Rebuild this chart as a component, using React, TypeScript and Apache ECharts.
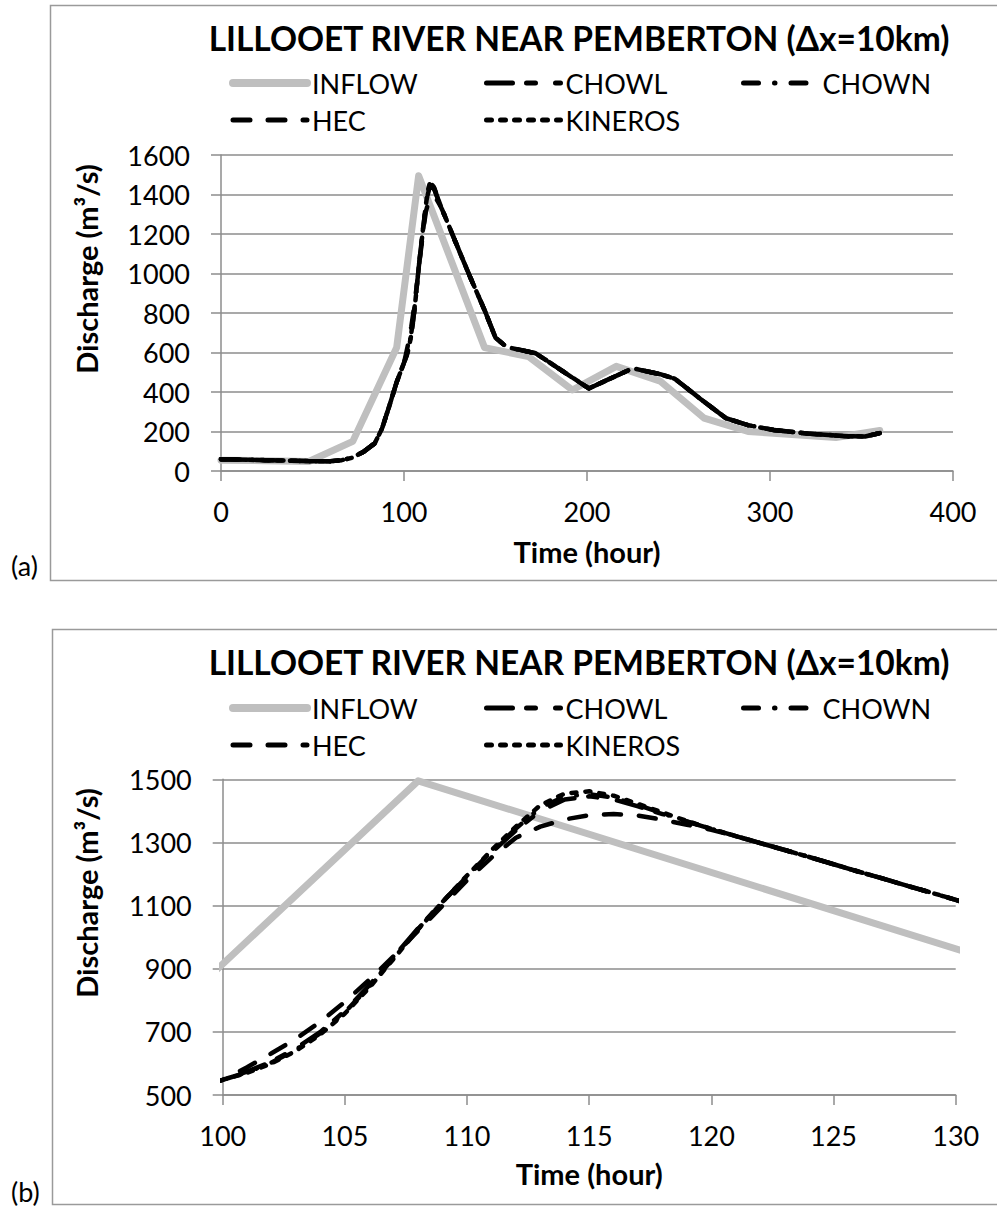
import React, { useEffect, useRef } from 'react';
import * as echarts from 'echarts';

const TITLE = 'LILLOOET RIVER NEAR PEMBERTON (Δx=10km)';
const X_NAME = 'Time (hour)';
const Y_NAME = 'Discharge (m³/s)';
const PANEL_LABELS = ['(a)', '(b)'];
const NAMES = ['INFLOW', 'CHOWL', 'CHOWN', 'HEC', 'KINEROS'];

// Inflow hydrograph (hour, m3/s)
const inflowTime = [0, 24, 48, 72, 96, 108, 144, 168, 192, 216, 240, 264, 288, 312, 336, 360];
const inflowQ = [55, 52, 48, 150, 625, 1495, 625, 580, 410, 530, 455, 268, 200, 185, 170, 205];

// Routed outflow: shared rising limb (all models coincide)
const earlyTime = [0, 24, 48, 60, 66, 72, 78, 84, 88, 92, 96];
const earlyQ = [60, 55, 50, 50, 55, 68, 98, 140, 215, 330, 450];

// Hourly detail around the peak
const peakTime = [100, 101, 102, 103, 104, 105, 106, 107, 108, 109, 110, 111, 112, 113, 114, 115,
  116, 117, 118, 119, 120, 121, 122, 123, 124, 125, 126, 127, 128, 129, 130];
const chowlPeakQ = [548, 574, 606, 648, 700, 766, 848, 938, 1028, 1112, 1192, 1268, 1338, 1400, 1436, 1446,
  1436, 1414, 1390, 1366, 1343, 1320, 1298, 1276, 1254, 1231, 1208, 1186, 1163, 1141, 1118];
const chownPeakQ = [548, 572, 603, 644, 696, 762, 844, 935, 1026, 1112, 1193, 1272, 1344, 1410, 1446, 1453,
  1442, 1418, 1392, 1367, 1343, 1320, 1298, 1276, 1254, 1231, 1208, 1186, 1163, 1141, 1118];
const hecPeakQ = [548, 588, 632, 678, 732, 795, 865, 940, 1020, 1100, 1180, 1252, 1315, 1350, 1373, 1386,
  1390, 1385, 1372, 1356, 1340, 1320, 1298, 1276, 1254, 1231, 1208, 1186, 1163, 1141, 1118];
const kinerosPeakQ = [548, 570, 600, 640, 692, 758, 840, 932, 1025, 1112, 1195, 1275, 1350, 1418, 1455, 1462,
  1448, 1422, 1395, 1368, 1343, 1320, 1298, 1276, 1254, 1231, 1208, 1186, 1163, 1141, 1118];

// Shared recession limb
const lateTime = [136, 144, 150, 156, 172, 186, 201, 212, 225, 240, 248, 262, 276, 288, 302, 320, 340, 352, 360];
const lateQ = [985, 815, 675, 628, 596, 510, 418, 465, 520, 490, 467, 365, 267, 232, 208, 190, 177, 175, 192];

// Axes
const topX = { min: 0, max: 400, interval: 100 };
const topY = { min: 0, max: 1600, interval: 200 };
const botX = { min: 100, max: 130, interval: 5 };
const botYTicks = [500, 700, 900, 1100, 1300, 1500];

const FONT = 'Lato, "Open Sans", "DejaVu Sans", sans-serif';
const GRID_COLOR = '#8c8c8c';
const BOX_COLOR = '#9a9a9a';

const zip = (t: number[], q: number[]) => t.map((x, i) => [x, q[i]]);
const routedTime = [...earlyTime, ...peakTime, ...lateTime];
const routed = (peak: number[]) => zip(routedTime, [...earlyQ, ...peak, ...lateQ]);

const seriesData: Record<string, number[][]> = {
  INFLOW: zip(inflowTime, inflowQ),
  CHOWL: routed(chowlPeakQ),
  CHOWN: routed(chownPeakQ),
  HEC: routed(hecPeakQ),
  KINEROS: routed(kinerosPeakQ),
};

const lineStyles: Record<string, any> = {
  INFLOW: { color: '#bfbfbf', width: 7, type: 'solid', cap: 'round', join: 'round' },
  CHOWL: { color: '#000', width: 4.5, type: [26, 14, 9, 20], cap: 'round', join: 'round' },
  CHOWN: { color: '#000', width: 4.5, type: [15, 16, 0.5, 16], cap: 'round', join: 'round' },
  HEC: { color: '#000', width: 4.5, type: [17, 18], cap: 'round', join: 'round' },
  KINEROS: { color: '#000', width: 4.5, type: [5, 9], cap: 'round', join: 'round' },
};

const labelStyle = { fontFamily: FONT, fontSize: 27, color: '#000', formatter: (v: number) => String(v) };
const nameStyle = { fontFamily: FONT, fontSize: 29, fontWeight: 'bold', color: '#000' };

function buildOption() {
  const panels = [
    { gridTop: 155, gridLeft: 221, gridW: 732, gridH: 316, titleTop: 21, legendTop: 68, yNameY: 269 },
    { gridTop: 779.3, gridLeft: 222.7, gridW: 733, gridH: 315.7, titleTop: 645, legendTop: 693, yNameY: 893 },
  ];

  const grid = panels.map((p) => ({
    left: p.gridLeft, top: p.gridTop, width: p.gridW, height: p.gridH, containLabel: false,
    outerBoundsMode: 'none',
  }));

  const axisCommon = {
    axisLine: { show: true, lineStyle: { color: GRID_COLOR, width: 1.5 } },
    axisTick: { show: true, inside: false, length: 10, lineStyle: { color: GRID_COLOR, width: 1.5 } },
  };

  const xAxis = [
    {
      type: 'value', gridIndex: 0, ...topX, ...axisCommon,
      splitLine: { show: false },
      axisLabel: { ...labelStyle, margin: 27 },
      name: X_NAME, nameLocation: 'middle', nameGap: 66, nameTextStyle: nameStyle,
    },
    {
      type: 'value', gridIndex: 1, ...botX, ...axisCommon,
      splitLine: { show: false },
      axisLabel: { ...labelStyle, margin: 27 },
      name: X_NAME, nameLocation: 'middle', nameGap: 64, nameTextStyle: nameStyle,
    },
  ];

  const yAxis = [
    {
      type: 'value', gridIndex: 0, ...topY, ...axisCommon,
      splitLine: { show: true, lineStyle: { color: GRID_COLOR, width: 1.5 } },
      axisLabel: { ...labelStyle, margin: 31 },
    },
    {
      type: 'value', gridIndex: 1, min: 500, max: 1500, interval: 100,
      axisLine: axisCommon.axisLine,
      axisTick: { ...axisCommon.axisTick, customValues: botYTicks },
      splitLine: { show: true, lineStyle: { color: GRID_COLOR, width: 1.5 } },
      axisLabel: { ...labelStyle, margin: 31, customValues: botYTicks },
    },
  ];

  const series: any[] = [];
  [0, 1].forEach((gi) => {
    NAMES.forEach((n, k) => {
      series.push({
        type: 'line', name: n, xAxisIndex: gi, yAxisIndex: gi,
        data: seriesData[n], symbol: 'none', showSymbol: false, clip: true,
        lineStyle: lineStyles[n], itemStyle: { color: lineStyles[n].color },
        z: 2 + k, emphasis: { disabled: true }, silent: true,
      });
    });
  });

  const legendCols = [
    { left: 229, names: ['INFLOW', 'HEC'] },
    { left: 484, names: ['CHOWL', 'KINEROS'] },
    { left: 741, names: ['CHOWN'] },
  ];
  const legend: any[] = [];
  panels.forEach((p) => {
    legendCols.forEach((c) => {
      legend.push({
        orient: 'vertical', left: c.left, top: p.legendTop, padding: 0, itemGap: 7,
        itemWidth: 74, itemHeight: 14, selectedMode: false,
        itemStyle: { opacity: 0 },
        textStyle: { fontFamily: FONT, fontSize: 27, color: '#000', lineHeight: 30 },
        data: c.names.map((n) => ({
          name: n,
          lineStyle: { width: n === 'INFLOW' ? 8 : 5 },
        })),
      });
    });
  });

  const title = panels.map((p) => ({
    text: TITLE, left: 579, top: p.titleTop, textAlign: 'center', padding: 0,
    textStyle: { fontFamily: FONT, fontSize: 33.5, fontWeight: 'bold', color: '#000' },
  }));

  const graphic: any[] = [
    { type: 'rect', shape: { x: 50.5, y: 5.5, width: 980, height: 575 }, style: { fill: 'none', stroke: BOX_COLOR, lineWidth: 1.5 }, silent: true },
    { type: 'rect', shape: { x: 52.5, y: 629.5, width: 980, height: 575 }, style: { fill: 'none', stroke: BOX_COLOR, lineWidth: 1.5 }, silent: true },
    { type: 'text', x: 11, y: 565, style: { text: PANEL_LABELS[0], fontFamily: FONT, fontSize: 27, fill: '#000', align: 'left', verticalAlign: 'middle' } },
    { type: 'text', x: 11, y: 1191, style: { text: PANEL_LABELS[1], fontFamily: FONT, fontSize: 27, fill: '#000', align: 'left', verticalAlign: 'middle' } },
    ...panels.map((p) => ({
      type: 'text', x: 86, y: p.yNameY, rotation: Math.PI / 2,
      style: { text: Y_NAME, fontFamily: FONT, fontSize: 29, fontWeight: 'bold', fill: '#000', align: 'center', verticalAlign: 'middle' },
    })),
  ];

  return {
    animation: false,
    backgroundColor: '#fff',
    title, legend, grid, xAxis, yAxis, series, graphic,
    tooltip: { show: false },
  };
}

export default function App() {
  const ref = useRef<HTMLDivElement>(null);
  useEffect(() => {
    if (!ref.current) return;
    const chart = echarts.init(ref.current, null, { renderer: 'svg' });
    chart.setOption(buildOption() as any);
    return () => chart.dispose();
  }, []);
  return (
    <div
      ref={ref}
      style={{ position: 'absolute', left: 0, top: 0, width: 997, height: 1209, background: '#fff' }}
    />
  );
}
